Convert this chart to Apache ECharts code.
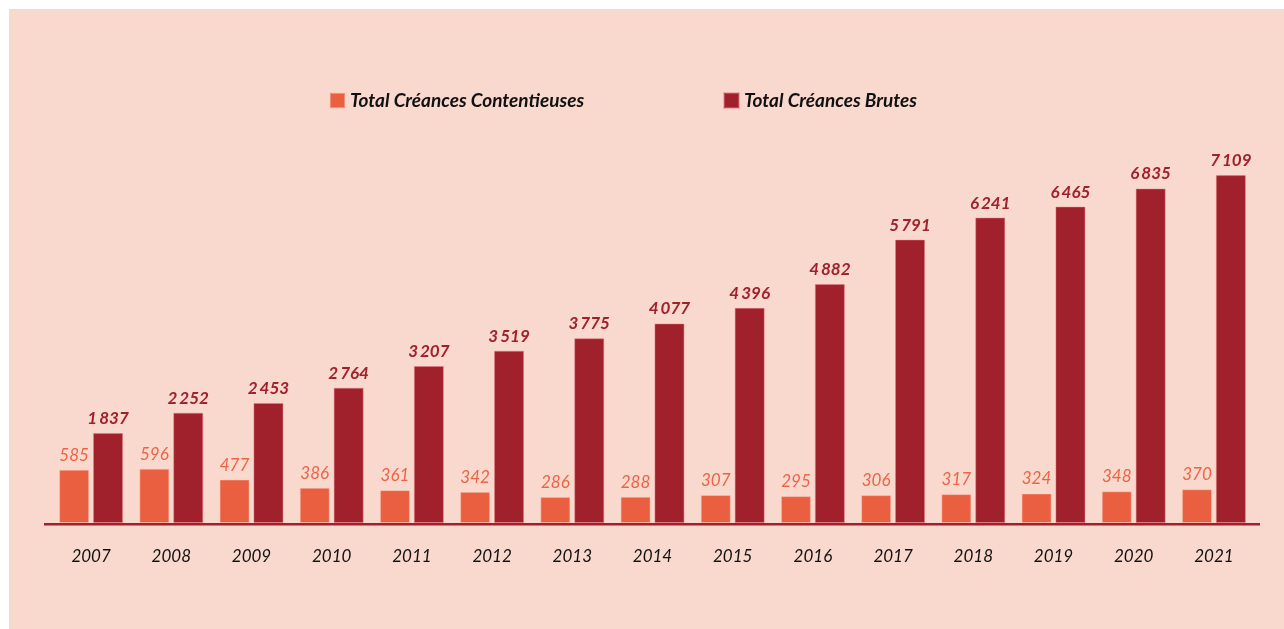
<!DOCTYPE html>
<html>
<head>
<meta charset="utf-8">
<script src="https://cdn.jsdelivr.net/npm/echarts@6/dist/echarts.min.js"></script>
<style>
  html, body { margin: 0; padding: 0; background: #ffffff; }
  #chart { width: 1284px; height: 629px; }
</style>
</head>
<body>
<div id="chart"></div>
<script>
// Years on the category axis
const years = ['2007', '2008', '2009', '2010', '2011', '2012', '2013', '2014',
  '2015', '2016', '2017', '2018', '2019', '2020', '2021'];

// Total Créances Contentieuses
const contentieuses = [585, 596, 477, 386, 361, 342, 286, 288, 307, 295, 306, 317, 324, 348, 370];

// Total Créances Brutes
const brutes = [1837, 2252, 2453, 2764, 3207, 3519, 3775, 4077, 4396, 4882, 5791, 6241, 6465, 6835, 7109];

const seriesNames = ['Total Créances Contentieuses', 'Total Créances Brutes'];

const LIGHT = '#E95F40';
const DARK = '#A0212C';
const FONT = 'Lato';

// French thousands grouping with a thin space
function fmt(v) {
  return String(v).replace(/\B(?=(\d{3})+(?!\d))/g, '\u2009');
}

const chart = echarts.init(document.getElementById('chart'), null, { renderer: 'canvas' });

const legendText = {
  fontFamily: FONT, fontSize: 19, fontStyle: 'italic', fontWeight: 'bold', color: '#111111'
};

chart.setOption({
  backgroundColor: '#ffffff',
  animation: false,
  graphic: [
    {
      type: 'rect', z: -10, silent: true,
      shape: { x: 9, y: 9, width: 1275, height: 620 },
      style: { fill: '#F9D9CD' }
    },
    {
      type: 'rect', z: 10, silent: true,
      shape: { x: 44, y: 523, width: 1216, height: 2.5 },
      style: { fill: DARK }
    }
  ],
  legend: [
    {
      data: [seriesNames[0]], left: 329, top: 91, padding: 0,
      itemWidth: 15, itemHeight: 15, itemGap: 6, icon: 'rect',
      textStyle: legendText
    },
    {
      data: [seriesNames[1]], left: 723, top: 91, padding: 0,
      itemWidth: 15, itemHeight: 15, itemGap: 6, icon: 'rect',
      textStyle: legendText
    }
  ],
  grid: { left: 51, right: 30, top: 131.5, bottom: 106, containLabel: false },
  xAxis: {
    type: 'category',
    data: years,
    axisLine: { show: false },
    axisTick: { show: false },
    axisLabel: {
      margin: 25, fontFamily: FONT, fontSize: 17, fontStyle: 'italic', color: '#111111'
    }
  },
  yAxis: [
    { type: 'value', min: 0, max: 8000, show: false, splitLine: { show: false } },
    { type: 'value', min: 0, max: 4300, show: false, splitLine: { show: false } }
  ],
  series: [
    {
      name: seriesNames[0], type: 'bar', yAxisIndex: 1,
      data: contentieuses,
      barWidth: 30, barGap: '13%',
      itemStyle: { color: LIGHT, borderColor: 'rgba(255,200,185,0.45)', borderWidth: 1 },
      label: {
        show: true, position: 'top', distance: 6,
        fontFamily: FONT, fontSize: 17, fontStyle: 'italic', color: '#EC6445',
        formatter: p => fmt(p.value)
      }
    },
    {
      name: seriesNames[1], type: 'bar', yAxisIndex: 0,
      data: brutes,
      barWidth: 30, barGap: '13%',
      itemStyle: { color: DARK, borderColor: 'rgba(230,120,130,0.45)', borderWidth: 1 },
      label: {
        show: true, position: 'top', distance: 6,
        fontFamily: FONT, fontSize: 17, fontStyle: 'italic', fontWeight: 'bold', color: DARK,
        formatter: p => fmt(p.value)
      }
    }
  ]
});
</script>
</body>
</html>
